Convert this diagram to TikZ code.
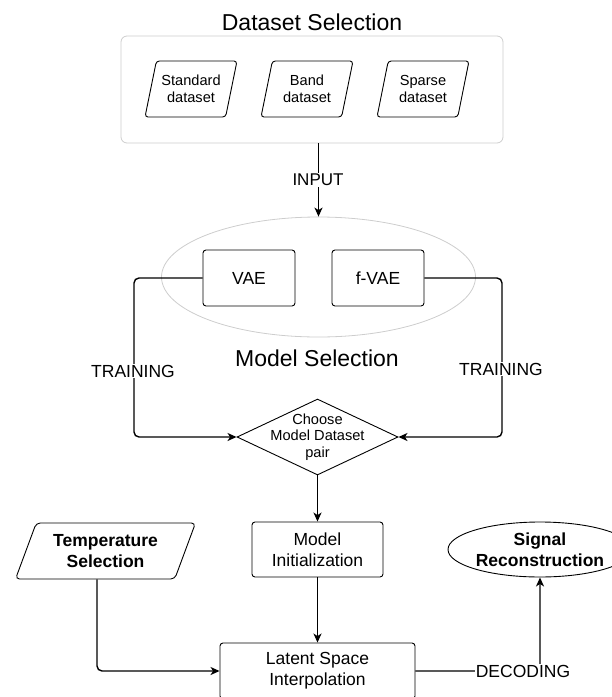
\documentclass[tikz,border=0pt]{standalone}
\usepackage{fontspec}
\setmainfont{Liberation Sans}
\usetikzlibrary{shapes.geometric,arrows.meta}
\definecolor{grayline}{RGB}{205,205,205}
\tikzset{
  mainfont/.style={font=\fontsize{17.5}{21}\selectfont},
  smallfont/.style={font=\fontsize{14.6}{17.5}\selectfont},
  titlefont/.style={font=\fontsize{23}{27}\selectfont},
  procbox/.style={draw, rounded corners=3pt, line width=0.9pt, inner sep=0pt, align=center, mainfont},
  dataslant/.style={trapezium, trapezium left angle=68, trapezium right angle=112, trapezium stretches body,
    draw, rounded corners=3pt, line width=0.9pt, minimum width=92pt, minimum height=56pt, inner sep=0pt, align=center, smallfont},
  conn/.style={line width=1.4pt, -{Stealth[length=9pt,width=8pt,inset=2.5pt]}, rounded corners=5pt},
  plainline/.style={line width=1.4pt, rounded corners=5pt},
  elabel/.style={fill=white, inner sep=1pt, mainfont}
}
\begin{document}
\begin{tikzpicture}[x=1pt,y=-1pt]
\useasboundingbox (0,0) rectangle (612,697);
% Dataset selection
\node[titlefont] (t1) at (312,22) {Dataset Selection};
\node[draw=grayline, rounded corners=6pt, line width=0.8pt, minimum width=382pt, minimum height=107pt, inner sep=0pt] (dsbox) at (312,89.5) {};
\node[dataslant] (std) at (191,89) {Standard\\dataset};
\node[dataslant] (band) at (307,89) {Band\\dataset};
\node[dataslant] (sparse) at (423,89) {Sparse\\dataset};
% Model selection
\node[ellipse, draw=grayline, line width=0.8pt, minimum width=314pt, minimum height=120pt, inner sep=0pt] (ms) at (318.5,277) {};
\node[procbox, minimum width=92pt, minimum height=56pt] (vae) at (249,278) {VAE};
\node[procbox, minimum width=92pt, minimum height=56pt] (fvae) at (378,278) {f-VAE};
\node[titlefont] (t2) at (317,358) {Model Selection};
% Diamond
\node[diamond, draw, line width=0.9pt, minimum width=161pt, minimum height=76pt, inner sep=0pt] (dia) at (317.5,437) {};
\node[smallfont, align=center, font=\fontsize{14.6}{16.5}\selectfont] (diatext) at (317.5,437) {Choose\\Model Dataset\\pair};
% Lower nodes
\node[procbox, minimum width=131pt, minimum height=55pt] (mi) at (317.5,549.5) {Model\\Initialization};
\node[procbox, minimum width=195pt, minimum height=56pt] (ls) at (317.5,671) {Latent Space\\Interpolation};
\node[trapezium, trapezium left angle=58, trapezium right angle=122, trapezium stretches body,
    draw, rounded corners=4pt, line width=0.9pt, minimum width=180pt, minimum height=56pt, inner sep=0pt, align=center,
    font=\fontsize{17.5}{21}\selectfont\bfseries] (temp) at (105.5,551) {Temperature\\Selection};
\node[ellipse, draw, line width=0.9pt, minimum width=184pt, minimum height=55pt, inner sep=0pt, align=center,
    font=\fontsize{17.5}{21}\selectfont\bfseries] (sig) at (540,549.5) {Signal\\Reconstruction};
% Coordinates for bends
\coordinate (lc) at (134,278);
\coordinate (rc) at (502,278);
% Connectors
\draw[conn] (dsbox.south -| ms.north) -- (ms.north);
\draw[conn] (vae.west) -- (lc) |- (dia.west);
\draw[conn] (fvae.east) -- (rc) |- (dia.east);
\draw[conn] (dia.south) -- (mi.north);
\draw[conn] (mi.south) -- (ls.north);
\draw[conn] ([xshift=-8.5pt]temp.south) |- (ls.west);
\draw[conn] (ls.east) -| (sig.south);
% Edge labels
\node[elabel, font=\fontsize{17}{20}\selectfont] (inlab) at (318,180) {INPUT};
\node[elabel] (trl) at (133,371) {TRAINING};
\node[elabel] (trr) at (501,369) {TRAINING};
\node[elabel] (dec) at (523,671) {DECODING};
\end{tikzpicture}
\end{document}
